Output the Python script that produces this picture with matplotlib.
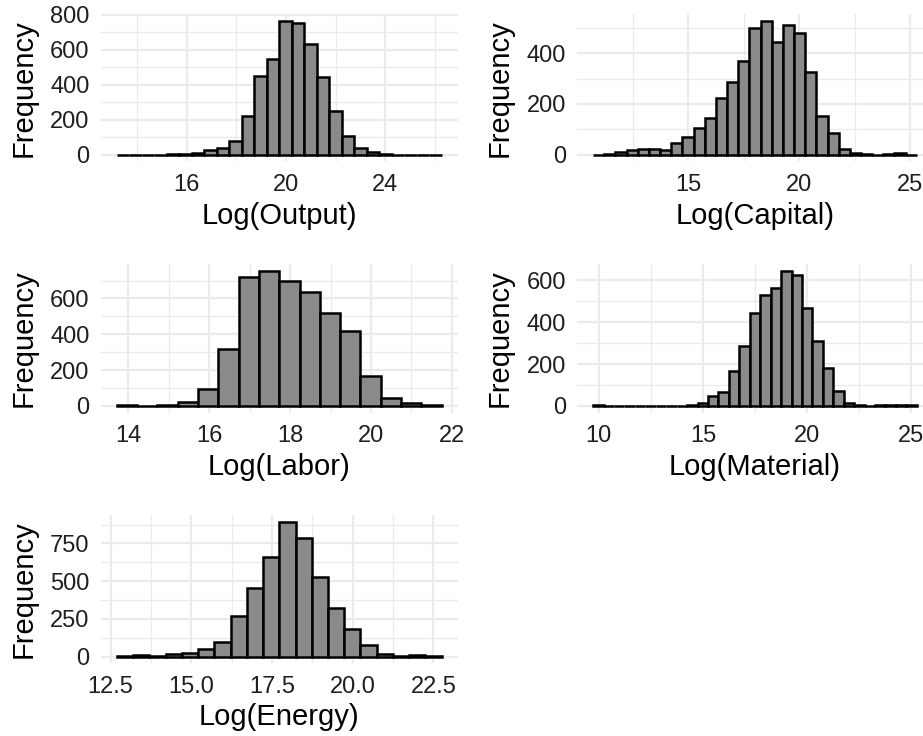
import numpy as np
import matplotlib
matplotlib.use('Agg')
import matplotlib.pyplot as plt

plt.rcParams['font.family'] = ['Liberation Sans', 'DejaVu Sans']

# bin counts (bin start, bin width, counts)
output_start, output_width = 13.18, 0.504
output_counts = [0, 1, 0, 0, 5, 6, 8, 25, 38, 76, 223, 451, 547, 766, 752,
                 632, 444, 248, 105, 38, 13, 2, 1, 1, 0, 1]

capital_start, capital_width = 10.72, 0.5024
capital_counts = [1, 2, 10, 17, 21, 24, 17, 46, 70, 105, 146, 224, 287, 370,
                  500, 528, 445, 511, 480, 324, 151, 86, 24, 6, 5, 1, 2, 6, 1]

labor_start, labor_width = 13.71, 0.5025
labor_counts = [7, 1, 7, 20, 95, 318, 721, 752, 695, 635, 520, 420, 169, 46,
                19, 4]

material_start, material_width = 9.73, 0.501
material_counts = [6, 0, 0, 0, 0, 0, 0, 0, 1, 5, 12, 49, 68, 167, 286, 445,
                   529, 566, 644, 625, 466, 310, 183, 72, 16, 5, 1, 4, 5, 4, 4]

energy_start, energy_width = 12.69, 0.5035
energy_counts = [2, 11, 2, 18, 25, 53, 95, 271, 457, 662, 893, 783, 529, 324,
                 183, 75, 18, 2, 11, 3]

output_xticks = [16, 20, 24]
capital_xticks = [15, 20, 25]
labor_xticks = [14, 16, 18, 20, 22]
material_xticks = [10, 15, 20, 25]
energy_xticks = [12.5, 15.0, 17.5, 20.0, 22.5]
energy_xlabels = ['12.5', '15.0', '17.5', '20.0', '22.5']

output_yticks = [0, 200, 400, 600, 800]
capital_yticks = [0, 200, 400]
labor_yticks = [0, 200, 400, 600]
material_yticks = [0, 200, 400, 600]
energy_yticks = [0, 250, 500, 750]

GRID = '#EBEBEB'


def minor_between(major, lo, hi):
    step = major[1] - major[0]
    ext = [major[0] - step] + list(major) + [major[-1] + step]
    mids = [(a + b) / 2 for a, b in zip(ext[:-1], ext[1:])]
    return [m for m in mids if lo <= m <= hi]


def draw_hist(ax, start, width, counts, xlabel, xticks, yticks, xlabels=None):
    counts = np.asarray(counts)
    edges = start + width * np.arange(len(counts) + 1)
    ax.bar(edges[:-1], counts, width=width, align='edge', color='#8a8a8a',
           edgecolor='black', linewidth=1.8, zorder=3)

    xr = edges[-1] - edges[0]
    x0, x1 = edges[0] - 0.05 * xr, edges[-1] + 0.05 * xr
    top = counts.max()
    y0, y1 = -0.05 * top, 1.05 * top
    ax.set_xlim(x0, x1)
    ax.set_ylim(y0, y1)

    ax.set_xticks(xticks)
    if xlabels is not None:
        ax.set_xticklabels(xlabels)
    ax.set_yticks(yticks)
    ax.set_xticks(minor_between(xticks, x0, x1), minor=True)
    ax.set_yticks(minor_between(yticks, y0, y1), minor=True)

    ax.grid(which='major', color=GRID, linewidth=1.6, zorder=0)
    ax.grid(which='minor', color=GRID, linewidth=1.0, zorder=0)
    ax.set_axisbelow(True)
    for s in ax.spines.values():
        s.set_visible(False)
    ax.tick_params(which='both', length=0)
    ax.tick_params(axis='x', pad=9, labelsize=17, labelcolor='#1f1f1f')
    ax.tick_params(axis='y', pad=8, labelsize=17, labelcolor='#1f1f1f')
    ax.set_xlabel(xlabel, fontsize=21, labelpad=4)
    ax.set_ylabel('Frequency', fontsize=21, labelpad=9)


fig = plt.figure(figsize=(9.23, 7.36), dpi=100)

left_l, left_w = 0.1089, 0.3873
right_l, right_w = 0.6251, 0.3857
rows = [(0.7806, 0.2004), (0.4393, 0.2014), (0.0986, 0.2016)]

ax1 = fig.add_axes([left_l, rows[0][0], left_w, rows[0][1]])
draw_hist(ax1, output_start, output_width, output_counts, 'Log(Output)',
          output_xticks, output_yticks)

ax2 = fig.add_axes([right_l, rows[0][0], right_w, rows[0][1]])
draw_hist(ax2, capital_start, capital_width, capital_counts, 'Log(Capital)',
          capital_xticks, capital_yticks)

ax3 = fig.add_axes([left_l, rows[1][0], left_w, rows[1][1]])
draw_hist(ax3, labor_start, labor_width, labor_counts, 'Log(Labor)',
          labor_xticks, labor_yticks)

ax4 = fig.add_axes([right_l, rows[1][0], right_w, rows[1][1]])
draw_hist(ax4, material_start, material_width, material_counts, 'Log(Material)',
          material_xticks, material_yticks)

ax5 = fig.add_axes([left_l, rows[2][0], left_w, rows[2][1]])
draw_hist(ax5, energy_start, energy_width, energy_counts, 'Log(Energy)',
          energy_xticks, energy_yticks, energy_xlabels)

fig.savefig('out.png', dpi=100)
